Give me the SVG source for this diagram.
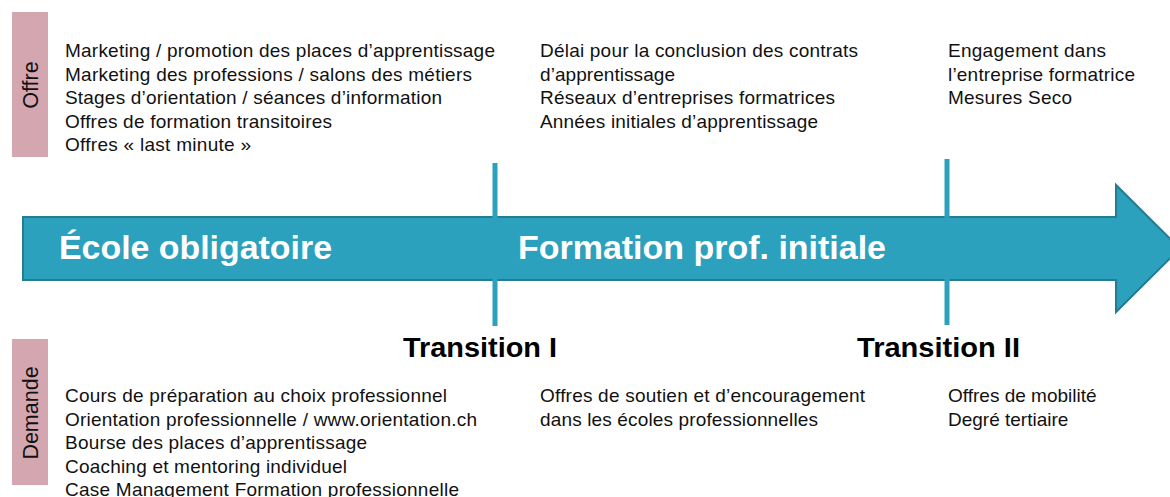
<svg xmlns="http://www.w3.org/2000/svg" width="1170" height="497" viewBox="0 0 1170 497">
  <style>
    .item { font-family: "Liberation Sans", Arial, sans-serif; font-size: 19px; fill: #111; }
    .side { font-family: "Liberation Sans", Arial, sans-serif; font-size: 21.5px; fill: #111; }
    .phase { font-family: "Liberation Sans", Arial, sans-serif; font-size: 33px; font-weight: bold; fill: #fff; }
    .trans { font-family: "Liberation Sans", Arial, sans-serif; font-size: 28px; font-weight: bold; fill: #000; }
    .tab { fill: #D4A6AF; }
    .mark { stroke: #2CA1BE; stroke-width: 5; }
  </style>
  <rect width="1170" height="497" fill="#fff"/>

  <!-- Side tabs -->
  <g id="tab-offre">
    <rect class="tab" x="12" y="12" width="36" height="145"/>
    <text class="side" transform="translate(38 85) rotate(-90)" text-anchor="middle">Offre</text>
  </g>
  <g id="tab-demande">
    <rect class="tab" x="12" y="339" width="36" height="146"/>
    <text class="side" transform="translate(38 413) rotate(-90)" text-anchor="middle">Demande</text>
  </g>

  <!-- Timeline arrow -->
  <g id="timeline">
    <path d="M23 217 H1116 V185 L1180 248.5 L1116 312 V280 H23 Z" fill="#2CA1BE" stroke="#237C92" stroke-width="2"/>
    <text class="phase" x="59" y="259" textLength="273" lengthAdjust="spacingAndGlyphs">École obligatoire</text>
    <text class="phase" x="518" y="259" textLength="368" lengthAdjust="spacingAndGlyphs">Formation prof. initiale</text>
  </g>

  <!-- Transition markers -->
  <g id="connectors">
    <line class="mark" x1="495" y1="163" x2="495" y2="326"/>
    <line class="mark" x1="947" y1="159" x2="947" y2="325"/>
  </g>
  <g id="transition-1">
    <text class="trans" x="403" y="357" textLength="154" lengthAdjust="spacingAndGlyphs">Transition I</text>
  </g>
  <g id="transition-2">
    <text class="trans" x="857" y="357" textLength="163" lengthAdjust="spacingAndGlyphs">Transition II</text>
  </g>

  <!-- Supply side -->
  <g id="offre-ecole">
    <text class="item" x="65" y="57" textLength="430" lengthAdjust="spacing">Marketing / promotion des places d’apprentissage</text>
    <text class="item" x="65" y="80.5" textLength="407" lengthAdjust="spacing">Marketing des professions / salons des métiers</text>
    <text class="item" x="65" y="104" textLength="377" lengthAdjust="spacing">Stages d’orientation / séances d’information</text>
    <text class="item" x="65" y="127.5" textLength="267" lengthAdjust="spacing">Offres de formation transitoires</text>
    <text class="item" x="65" y="151" textLength="186" lengthAdjust="spacing">Offres « last minute »</text>
  </g>
  <g id="offre-formation">
    <text class="item" x="540" y="57" textLength="318" lengthAdjust="spacing">Délai pour la conclusion des contrats</text>
    <text class="item" x="540" y="80.5" textLength="135" lengthAdjust="spacing">d’apprentissage</text>
    <text class="item" x="540" y="104" textLength="295" lengthAdjust="spacing">Réseaux d’entreprises formatrices</text>
    <text class="item" x="540" y="127.5" textLength="278" lengthAdjust="spacing">Années initiales d’apprentissage</text>
  </g>
  <g id="offre-apres">
    <text class="item" x="948" y="57" textLength="158" lengthAdjust="spacing">Engagement dans</text>
    <text class="item" x="948" y="80.5" textLength="187" lengthAdjust="spacing">l’entreprise formatrice</text>
    <text class="item" x="948" y="104" textLength="124" lengthAdjust="spacing">Mesures Seco</text>
  </g>

  <!-- Demand side -->
  <g id="demande-ecole">
    <text class="item" x="65" y="402" textLength="382" lengthAdjust="spacing">Cours de préparation au choix professionnel</text>
    <text class="item" x="65" y="425.5" textLength="412" lengthAdjust="spacing">Orientation professionnelle / www.orientation.ch</text>
    <text class="item" x="65" y="449" textLength="302" lengthAdjust="spacing">Bourse des places d’apprentissage</text>
    <text class="item" x="65" y="472.5" textLength="282" lengthAdjust="spacing">Coaching et mentoring individuel</text>
    <text class="item" x="65" y="496" textLength="394" lengthAdjust="spacing">Case Management Formation professionnelle</text>
  </g>
  <g id="demande-formation">
    <text class="item" x="540" y="402" textLength="325" lengthAdjust="spacing">Offres de soutien et d’encouragement</text>
    <text class="item" x="540" y="425.5" textLength="278" lengthAdjust="spacing">dans les écoles professionnelles</text>
  </g>
  <g id="demande-apres">
    <text class="item" x="948" y="402">Offres de mobilité</text>
    <text class="item" x="948" y="425.5">Degré tertiaire</text>
  </g>
</svg>
